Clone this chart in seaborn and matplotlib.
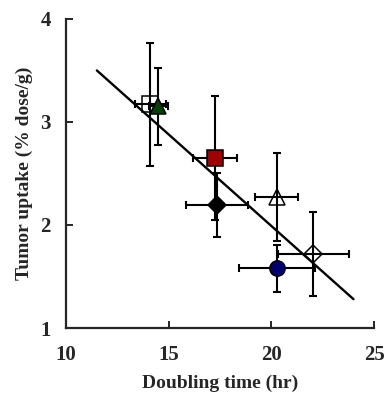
import matplotlib
matplotlib.use("Agg")
import matplotlib.pyplot as plt
import seaborn as sns
import pandas as pd

# Data
groups = ["open_square", "green_triangle", "red_square", "black_diamond",
          "open_triangle", "blue_circle", "open_diamond"]
doubling_time = [14.1, 14.5, 17.26, 17.35, 20.26, 20.26, 22.05]
doubling_err = [0.75, 0.45, 1.08, 1.52, 1.05, 1.85, 1.75]
uptake = [3.17, 3.15, 2.65, 2.19, 2.27, 1.58, 1.72]
uptake_err = [0.60, 0.37, 0.60, 0.31, 0.43, 0.23, 0.41]

fit_x = [11.5, 24.0]
fit_y = [3.50, 1.28]

x_ticks = [10, 15, 20, 25]
y_ticks = [1, 2, 3, 4]

markers = ["s", "^", "s", "D", "^", "o", "D"]
faces = ["none", "#004000", "#A00000", "black", "none", "#000070", "none"]
sizes = [11, 11, 11, 9, 11, 11, 9]

df = pd.DataFrame({"group": groups, "x": doubling_time, "xerr": doubling_err,
                   "y": uptake, "yerr": uptake_err})
fit_df = pd.DataFrame({"x": fit_x, "y": fit_y})

sns.set_style("ticks")
plt.rcParams["font.family"] = ["Liberation Serif", "DejaVu Serif"]
plt.rcParams["font.weight"] = "bold"

fig = plt.figure(figsize=(3.84, 3.94), dpi=100)
ax = fig.add_axes([0.172, 0.1675, 0.802, 0.7845])

for i, row in df.iterrows():
    ax.errorbar(row["x"], row["y"], xerr=row["xerr"], yerr=row["yerr"],
                fmt="none", ecolor="black", elinewidth=1.5, capsize=3,
                capthick=1.5, zorder=2)

sns.lineplot(data=fit_df, x="x", y="y", color="black", linewidth=1.7,
             ax=ax, zorder=3)

for i, row in df.iterrows():
    ax.plot(row["x"], row["y"], marker=markers[i], markersize=sizes[i],
            markerfacecolor=faces[i], markeredgecolor="black",
            markeredgewidth=1.1, linestyle="none", zorder=4)

ax.set_xlim(10, 25)
ax.set_ylim(1, 4)
ax.set_xticks(x_ticks)
ax.set_yticks(y_ticks)
ax.set_xticklabels([str(t) for t in x_ticks], fontsize=15, fontweight="bold")
ax.set_yticklabels([str(t) for t in y_ticks], fontsize=15, fontweight="bold")
ax.tick_params(direction="in", length=5, width=1.4)
ax.tick_params(axis="x", pad=12)
ax.tick_params(axis="y", pad=11)
ax.set_xlabel("Doubling time (hr)", fontsize=14, fontweight="bold", labelpad=7)
ax.set_ylabel("Tumor uptake (% dose/g)", fontsize=14, fontweight="bold", labelpad=5)
for s in ["top", "right"]:
    ax.spines[s].set_visible(False)
for s in ["left", "bottom"]:
    ax.spines[s].set_linewidth(1.6)

fig.savefig("out.png", dpi=100)
